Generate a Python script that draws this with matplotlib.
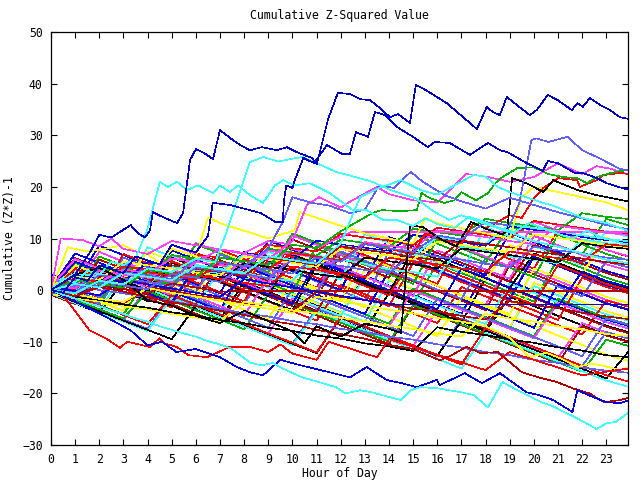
import matplotlib
matplotlib.use("Agg")
from matplotlib import pyplot as plt

# hourly grid used by the bulk of the traces (last sample sits just before 24h)
hours = list(range(24)) + [23.9]

# ---- traced outliers (hour, value) ----
top_a_x = [0, 1, 1.6, 2, 2.5, 3.3, 3.6, 3.9, 4.1, 4.22, 4.7, 5.22, 5.47, 5.76, 6.0, 6.29, 6.71, 7.0, 7.41, 7.83,
           8.24, 8.74, 9.36, 9.77, 10.19, 10.81, 11.01, 11.47, 11.88, 12.38, 12.8, 13.21, 13.62, 14.04, 14.37,
           14.87, 15.11, 15.4, 16.4, 17.64, 18.05, 18.3, 18.59, 18.88, 19.83, 20.12, 20.58, 20.99, 21.57, 21.82,
           22.03, 22.32, 22.73, 23.15, 23.56, 23.9]
top_a_y = [0, 3.0, 7.2, 10.7, 10.2, 12.6, 11.0, 10.2, 11.6, 15.1, 14.0, 13.0, 14.9, 25.2, 27.3, 26.7, 25.4, 31.0,
           29.5, 28.1, 27.1, 27.7, 27.1, 27.7, 26.7, 25.6, 24.4, 33.0, 38.2, 38.0, 37.0, 36.8, 35.3, 33.5, 34.1,
           32.4, 39.7, 39.1, 36.2, 31.2, 35.5, 34.5, 33.9, 37.4, 33.9, 34.9, 37.8, 36.8, 34.9, 36.2, 35.5, 37.2,
           35.9, 34.9, 33.5, 33.2]

top_b_x = [0, 0.5, 1, 1.5, 2, 2.5, 3, 3.5, 4, 4.5, 5, 5.5, 6, 6.5, 6.7, 7.4, 8.24, 8.7, 9.3, 9.6, 9.65, 9.75,
           10.0, 10.1, 10.45, 10.9, 11.43, 12.05, 12.38, 12.63, 13.13, 13.42, 13.83, 14.33, 14.99, 15.61, 15.9,
           16.52, 17.35, 18.1, 18.6, 18.92, 19.71, 20.37, 20.58, 20.99, 21.7, 22.03, 22.61, 23.02, 23.48, 23.9]
top_b_y = [0, -0.5, 2.5, 1.8, 4.8, 4.0, 3.3, 6.5, 5.8, 5.0, 8.8, 8.0, 7.3, 10.5, 16.9, 16.5, 15.5, 14.9, 13.2,
           13.2, 17.4, 20.3, 19.8, 21.3, 25.6, 24.6, 28.1, 26.4, 26.4, 30.6, 29.7, 34.5, 33.9, 31.6, 29.7, 27.7,
           28.7, 28.5, 26.2, 28.5, 27.1, 26.7, 24.6, 23.1, 25.0, 24.6, 22.7, 22.7, 21.7, 20.7, 20.0, 19.5]

cyan_a_x = [0, 0.5, 1, 1.5, 2, 2.5, 3, 3.5, 3.98, 4.51, 4.84, 5.22, 5.63, 6.09, 6.71, 7.0, 7.41, 7.74, 8.24,
            8.78, 9.28, 9.61, 10.1, 10.72, 11.55, 12.5, 13.08, 13.75, 14.33, 15.0, 15.5, 16.0, 16.7, 17.3, 18.0,
            18.6, 19.2, 19.8, 20.5, 21.0, 21.6, 22.2, 22.8, 23.4, 23.9]
cyan_a_y = [0, 2.2, 1.5, 3.8, 3.0, 5.5, 4.8, 6.2, 11.6, 21.0, 20.0, 21.0, 19.4, 20.3, 18.8, 20.3, 19.0, 20.3,
            18.4, 16.9, 20.3, 21.3, 20.3, 20.7, 18.8, 15.5, 15.5, 13.6, 13.6, 12.4, 13.9, 12.8, 12.0, 14.2, 13.1,
            12.0, 11.2, 13.0, 11.8, 10.9, 10.0, 11.5, 10.2, 9.4, 8.8]

cyan_b_x = [0, 1, 2, 3, 4, 5, 6, 6.8, 7.3, 8.24, 8.8, 9.4, 10.4, 11.0, 11.8, 12.3, 13.3, 14.0, 15.1, 15.9,
            16.5, 17.0, 18.0, 19.0, 20.0, 21.0, 22.0, 23.0, 23.9]
cyan_b_y = [0, -0.6, 1.8, 1.1, 4.2, 3.5, 6.1, 5.4, 11.6, 24.8, 25.8, 24.9, 25.8, 24.6, 22.9, 22.3, 21.0, 19.5,
            17.8, 15.1, 13.6, 14.5, 12.8, 11.2, 9.5, 8.4, 7.1, 5.9, 5.2]

cyan_c_x = [0, 1, 2, 3, 4, 5, 6, 7, 8, 9, 10, 11, 12, 12.8, 13.6, 14.5, 15.3, 16.0, 17.0, 17.5, 18.0, 18.5,
            19.0, 20.0, 21.0, 22.0, 23.0, 23.9]
cyan_c_y = [0, 1.2, 0.5, 3.3, 2.6, 1.9, 4.7, 4.0, 3.2, 6.6, 5.8, 5.1, 9.0, 18.0, 19.8, 21.3, 19.4, 18.5, 21.0,
            22.3, 22.0, 20.0, 19.0, 17.5, 16.0, 14.0, 13.0, 11.5]

lblue_a_x = [0, 1, 2, 3, 4, 5, 6, 7, 8, 9, 10, 11, 12, 13, 14, 15, 16, 17, 18, 19, 19.4, 19.9, 20.1, 20.6,
             21.4, 22.0, 22.7, 23.1, 23.56, 23.9]
lblue_a_y = [0, -0.7, 1.6, 0.9, 0.2, 3.1, 2.4, 1.6, 4.7, 4.0, 3.2, 6.3, 5.5, 8.9, 8.1, 7.4, 10.6, 9.8, 13.2,
             12.5, 16.9, 29.1, 29.4, 28.7, 29.7, 27.1, 25.6, 24.6, 23.5, 23.2]

lblue_b_x = [0, 1, 2, 3, 4, 5, 6, 7, 8, 9, 9.6, 10.0, 10.8, 11.5, 12.4, 13.0, 13.6, 14.2, 14.9, 15.4, 16.3,
             17.0, 18.0, 19.0, 20.0, 21.0, 22.0, 23.0, 23.9]
lblue_b_y = [0, 1.4, 0.7, 3.5, 2.8, 2.1, 6.0, 5.3, 4.6, 8.1, 13.2, 18.0, 16.9, 16.4, 14.9, 15.6, 20.3, 19.8,
             22.9, 21.0, 18.4, 17.2, 15.8, 17.9, 16.5, 15.1, 13.9, 12.6, 11.8]

green_a_x = [0, 1, 2, 3, 4, 5, 6, 7, 8, 9, 10, 11, 12, 13.3, 13.7, 14.5, 15.15, 15.35, 15.7, 16.3, 16.7, 17.0,
             17.6, 18.1, 18.4, 18.7, 19.3, 20.0, 20.6, 21.2, 21.8, 22.2, 22.6, 23.2, 23.9]
green_a_y = [0, 1.9, 1.2, 0.5, 3.9, 3.2, 2.5, 6.3, 5.6, 4.9, 8.8, 8.1, 11.4, 14.9, 15.5, 15.3, 15.5, 18.8, 17.8,
             16.9, 17.4, 19.0, 17.4, 18.8, 20.7, 21.9, 23.6, 23.8, 22.5, 21.9, 21.7, 20.7, 21.9, 22.7, 23.3]

mag_a_x = [0, 0.4, 1.3, 2, 2.5, 3, 4, 5, 6, 7, 8, 9, 10, 10.6, 11.1, 12.0, 12.3, 13.5, 14.0, 15.0, 16.0, 17.2,
           18.0, 19.0, 20.0, 21.0, 21.5, 22.0, 22.6, 23.2, 23.9]
mag_a_y = [0, 10.0, 9.7, 8.5, 10.0, 8.0, 7.0, 9.5, 8.7, 7.9, 7.0, 6.0, 9.5, 16.5, 18.0, 16.0, 16.9, 20.0, 18.6,
           17.4, 17.0, 22.5, 22.0, 21.0, 21.9, 24.6, 23.5, 22.5, 24.0, 23.5, 22.4]

yel_a_x = [0, 0.7, 1.5, 2, 3, 3.5, 4, 4.5, 5, 5.5, 6, 6.5, 7, 7.5, 8, 9, 10.1, 10.3, 11, 12, 13, 14, 15,
           15.5, 16, 17, 18, 19, 19.5, 20, 21, 22, 23, 23.9]
yel_a_y = [0, 8.3, 7.5, 7.8, 8.7, 7.5, 7.0, 5.2, 8.0, 7.3, 6.5, 14.1, 13.0, 12.2, 11.5, 10.0, 11.6, 15.1, 14.0,
           12.5, 11.0, 10.0, 9.0, 14.0, 13.0, 12.0, 11.0, 10.0, 18.0, 20.0, 19.0, 18.0, 17.0, 15.5]

red_a_x = [0, 1, 2, 3, 4, 5, 6, 7, 8, 9, 10, 11, 12, 13, 14, 15, 15.5, 16, 17, 17.5, 18, 19, 19.5, 20, 20.4,
           21.0, 21.8, 21.9, 22.6, 22.9, 23.6, 23.9]
red_a_y = [0, 2.3, 1.6, 0.9, 3.5, 2.8, 2.1, 5.4, 4.7, 4.0, 7.2, 6.5, 5.8, 9.0, 8.0, 7.0, 11.0, 10.0, 9.0, 13.0,
           12.0, 14.5, 14.0, 17.8, 19.8, 21.7, 21.3, 20.0, 21.3, 22.3, 22.7, 22.5]

black_a_x = [0, 1, 2, 3, 4, 5, 6, 7, 8, 9, 10, 10.5, 11, 12, 13, 14, 14.5, 14.87, 15.4, 16.2, 16.8, 17.4, 18.0,
             18.7, 18.9, 19.1, 19.7, 20.4, 20.8, 21.8, 22.6, 23.9]
black_a_y = [0, 3.0, 4.3, 2.0, -2.0, -3.0, -5.0, -6.4, -4.0, -6.0, -8.0, -10.3, -7.0, -9.0, -6.5, -7.5, -8.3,
             12.6, 12.2, 9.7, 8.5, 13.2, 11.9, 10.8, 11.6, 21.7, 20.7, 19.0, 21.3, 19.4, 18.4, 17.2]

# ---- traced lower outliers ----
cyan_low_x = [0, 0.5, 1, 1.5, 2, 2.5, 3, 3.5, 4, 4.5, 5, 5.5, 6, 6.5, 7, 7.5, 8.24, 8.7, 9.2, 9.6, 10.4, 11.1,
              11.8, 12.2, 12.8, 13.3, 14.0, 14.5, 14.9, 15.3, 16.0, 16.5, 17.0, 17.5, 18.1, 18.7, 19.0, 19.5,
              20.3, 20.8, 21.2, 21.7, 22.1, 22.6, 23.0, 23.4, 23.9]
cyan_low_y = [0, -0.9, -1.6, -2.5, -3.1, -4.0, -4.6, -5.5, -6.1, -7.0, -7.7, -8.4, -9.0, -9.9, -10.5, -11.4,
              -14.0, -14.6, -14.1, -15.2, -16.9, -17.8, -18.8, -20.0, -19.4, -19.8, -20.7, -21.3, -19.4, -18.8,
              -19.0, -19.4, -19.8, -20.3, -22.7, -17.8, -18.6, -19.8, -21.7, -22.5, -23.5, -24.6, -25.6, -26.9,
              -25.8, -25.5, -23.8]

blue_low_x = [0, 1, 2, 3.3, 4.0, 4.6, 5.2, 6.0, 7.0, 7.7, 8.24, 8.78, 9.5, 10.2, 11.0, 11.7, 12.38, 13.08,
              13.9, 14.5, 15.15, 15.98, 16.1, 17.14, 17.85, 18.6, 19.7, 20.2, 20.8, 21.6, 21.8, 22.4, 23.0,
              23.56, 23.9]
blue_low_y = [0, -2.2, -4.5, -7.8, -10.7, -10.0, -12.0, -11.4, -13.0, -14.9, -15.9, -16.5, -13.5, -14.4, -15.3,
              -16.1, -16.9, -14.9, -17.4, -18.0, -18.8, -17.4, -18.4, -16.1, -18.0, -16.1, -19.8, -20.3,
              -21.3, -23.6, -19.4, -20.6, -21.7, -21.9, -21.4]

dred_low_x = [0, 1, 2, 3, 4, 5, 6, 7, 8, 9, 10, 11, 12, 13, 14, 15, 16.1, 16.6, 17.2, 17.8, 18.5, 19.5, 20.2,
              20.95, 21.6, 22.3, 22.9, 23.56, 23.9]
dred_low_y = [0, -1.2, 0.6, -0.3, -1.4, -2.3, -3.1, -4.0, -4.8, -5.9, -6.6, -7.7, -8.5, -9.4, -10.6, -11.4,
              -13.6, -12.6, -11.0, -12.2, -12.0, -15.9, -16.9, -17.8, -19.0, -20.0, -21.7, -21.3, -20.9]

red_low_x = [0, 0.5, 1.0, 1.6, 2.3, 2.86, 3.15, 4.1, 4.5, 4.7, 5.2, 5.7, 6.46, 7.4, 8.24, 9.0, 9.5, 10.0, 11.0,
             11.5, 12.5, 13.5, 14.0, 15.0, 16.0, 17.0, 18.0, 19.0, 20.0, 21.0, 22.0, 23.0, 23.9]
red_low_y = [0, -1.0, -4.1, -7.8, -9.4, -11.2, -10.0, -11.0, -9.3, -10.3, -11.0, -12.6, -13.0, -11.0, -11.0,
             -12.0, -10.5, -12.3, -13.5, -10.0, -11.5, -13.0, -9.5, -11.0, -12.5, -14.0, -15.5, -12.0, -13.5,
             -15.0, -16.5, -15.8, -15.2]

yel_low_x = [0, 1, 2, 3, 4, 5, 6, 7, 8, 9, 10, 11, 12, 13, 14, 15, 16, 17, 18, 19, 19.8, 20.5, 21.2, 21.8,
             22.4, 23.0, 23.56, 23.9]
yel_low_y = [0, -0.8, -1.7, -2.3, 0.4, -0.5, -1.2, -2.1, -2.8, -3.6, -4.4, -1.3, -2.1, -2.9, -3.8, -4.5, -5.4,
             -6.1, -7.0, -9.2, -13.0, -12.1, -13.4, -14.9, -14.2, -14.8, -15.5, -15.0]

# ---- flat segments (stuck readings) ----
flat_mag_x = [0, 1, 2, 3, 4, 5, 6, 7, 8, 9, 10, 11, 12, 12.4, 23.9]
flat_mag_y = [0.4, 2.2, 1.5, 4.0, 3.3, 6.1, 5.4, 7.9, 7.2, 9.5, 8.8, 8.1, 10.3, 11.2, 11.2]
flat_dred_x = [0, 1, 2, 3, 4, 5, 6, 7, 7.6, 23.9]
flat_dred_y = [-0.3, -1.1, 0.9, 0.2, -0.6, 1.3, 0.5, -0.3, -0.2, -0.2]
flat_blue_x = [0, 1, 2, 3, 4, 5, 6, 7, 8, 9, 10, 11, 12, 13, 14, 14.3, 23.9]
flat_blue_y = [0.6, -0.2, -1.0, 1.9, 1.1, 0.3, -0.5, -1.3, 2.1, 1.3, 0.5, -0.3, -1.1, -1.9, -2.6, -2.8, -2.8]

# ---- bulk of the traces, one value per hour ----
mid_series = [
    [1.2, -0.6, -2.4, 5.1, 3.2, 1.5, -0.4, 7.8, 6.0, 4.1, 2.3, 0.5, 8.6, 6.8, 4.9, 3.1, 1.2, 9.7, 7.9, 6.0, 4.2, 11.5, 9.6, 7.8, 6.5],
    [0.4, 5.3, 3.4, 1.6, -0.3, -2.1, 4.6, 2.8, 0.9, -0.9, 6.7, 4.8, 3.0, 1.1, -0.7, -2.6, 5.2, 3.3, 1.5, -0.4, -2.2, 6.1, 4.3, 2.4, 1.1],
    [-0.6, -2.3, 3.9, 2.1, 0.2, -1.6, -3.5, 4.4, 2.5, 0.7, -1.2, -3.0, -4.9, 2.8, 0.9, -0.9, -2.8, -4.6, 3.6, 1.7, -0.1, -2.0, -3.8, -5.7, -6.9],
    [2.6, 0.8, 7.4, 5.5, 3.7, 1.8, 9.1, 7.3, 5.4, 3.6, 1.7, -0.1, 8.2, 6.4, 4.5, 2.7, 0.8, -1.0, -2.9, 5.5, 3.6, 1.8, -0.1, -1.9, -3.1],
    [-0.2, -2.0, -3.8, 2.9, 1.1, -0.8, -2.6, -4.5, 3.1, 1.3, -0.6, -2.4, -4.3, -6.1, 1.9, 0.1, -1.8, -3.6, -5.5, -7.3, 0.8, -1.0, -2.9, -4.7, -5.9],
    [0.9, 6.2, 4.4, 2.5, 0.7, -1.2, -3.0, 5.8, 4.0, 2.1, 0.3, -1.6, 7.2, 5.4, 3.5, 1.7, -0.2, -2.0, -3.9, 4.9, 3.1, 1.2, -0.6, -2.5, -3.7],
    [0.3, -1.5, 4.7, 2.9, 1.0, -0.8, 6.6, 4.8, 2.9, 1.1, -0.8, -2.6, -4.5, 3.9, 2.1, 0.2, -1.6, -3.5, -5.3, -7.2, 1.4, -0.4, -2.3, -4.1, -5.3],
    [-0.8, -2.6, -4.4, 1.7, -0.1, -2.0, -3.8, -5.7, 1.5, -0.3, -2.2, -4.0, -5.9, -7.7, -0.6, -2.4, -4.3, -6.1, -8.0, -1.3, -3.1, -5.0, -6.8, -8.7, -9.9],
    [1.7, -0.1, -1.9, 6.3, 4.5, 2.6, 0.8, -1.1, -2.9, 5.4, 3.6, 1.7, -0.1, -2.0, 7.6, 5.8, 3.9, 2.1, 0.2, -1.6, 6.8, 5.0, 3.1, 1.3, 0.1],
    [-0.4, 4.0, 2.2, 0.3, -1.5, -3.4, 3.3, 1.5, -0.4, -2.2, -4.1, -5.9, 1.0, -0.8, -2.7, -4.5, -6.4, 0.6, -1.2, -3.1, -4.9, -6.8, -8.6, -2.0, -3.2],
    [0.7, -1.1, -2.9, -4.7, 2.4, 0.6, -1.3, -3.1, -5.0, 2.7, 0.9, -1.0, -2.8, -4.7, -6.5, 0.3, -1.5, -3.4, -5.2, -7.1, -8.9, -1.7, -3.5, -5.4, -6.6],
    [3.1, 1.3, 8.6, 6.8, 4.9, 3.1, 1.2, -0.6, 7.4, 5.6, 3.7, 1.9, 0.0, 9.3, 7.5, 5.6, 3.8, 1.9, 0.1, -1.8, 6.5, 4.7, 2.8, 1.0, -0.2],
    [-0.5, -2.3, -4.1, -5.9, 0.8, -1.0, -2.9, -4.7, -6.6, -8.4, -1.6, -3.4, -5.3, -7.1, -9.0, -10.8, -3.9, -5.7, -7.6, -9.4, -11.3, -13.1, -6.4, -8.2, -9.4],
    [0.6, 5.8, 4.0, 2.1, 0.3, -1.6, -3.4, 4.2, 2.4, 0.5, -1.3, -3.2, -5.0, 2.6, 0.8, -1.1, -2.9, -4.8, -6.6, 1.3, -0.5, -2.4, -4.2, -6.1, -7.3],
    [-0.9, -2.7, 2.8, 1.0, -0.9, -2.7, -4.6, -6.4, 0.6, -1.2, -3.1, -4.9, -6.8, -8.6, -10.5, -3.1, -4.9, -6.8, -8.6, -10.5, -12.3, -14.2, -7.0, -8.8, -10.0],
    [1.4, -0.4, -2.2, -4.0, 3.6, 1.8, -0.1, -1.9, -3.8, -5.6, 2.2, 0.4, -1.5, -3.3, -5.2, -7.0, -8.9, -1.4, -3.2, -5.1, -6.9, -8.8, -10.6, -12.5, -13.7],
    [0.2, 3.4, 1.6, -0.3, -2.1, 5.3, 3.5, 1.6, -0.2, -2.1, -3.9, 4.8, 3.0, 1.1, -0.7, -2.6, -4.4, -6.3, 2.3, 0.5, -1.4, -3.2, -5.1, -6.9, -8.1],
    [-0.3, -2.1, -3.9, -5.7, -7.5, -1.2, -3.0, -4.9, -6.7, -8.6, -10.4, -3.6, -5.4, -7.3, -9.1, -11.0, -12.8, -5.5, -7.3, -9.2, -11.0, -12.9, -14.7, -8.1, -9.3],
    [2.2, 0.4, -1.4, 7.0, 5.2, 3.3, 1.5, -0.4, -2.2, 6.1, 4.3, 2.4, 0.6, -1.3, -3.1, 5.3, 3.5, 1.6, -0.2, -2.1, -3.9, -5.8, 2.4, 0.6, -0.6],
    [-0.1, -1.9, -3.7, -5.5, -0.2, -2.0, -3.9, -5.7, -7.6, -0.8, -2.6, -4.5, -6.3, -8.2, -10.0, -2.9, -4.7, -6.6, -8.4, -10.3, -12.1, -14.0, -15.8, -9.6, -10.8],
    [0.5, 7.1, 5.3, 3.4, 1.6, -0.3, -2.1, -4.0, 4.6, 2.8, 0.9, -0.9, -2.8, -4.6, 3.8, 2.0, 0.1, -1.7, -3.6, -5.4, -7.3, 1.1, -0.7, -2.6, -3.8],
    [1.0, -0.8, -2.6, 4.3, 2.5, 0.6, -1.2, -3.1, -4.9, 2.2, 0.4, -1.5, -3.3, -5.2, -7.0, -0.1, -1.9, -3.8, -5.6, -7.5, -9.3, -2.5, -4.3, -6.2, -7.4],
    [-0.7, -2.5, -4.3, -6.1, -7.9, -1.5, -3.3, -5.2, -7.0, -8.9, -10.7, -4.1, -5.9, -7.8, -9.6, -11.5, -13.3, -15.2, -8.3, -10.1, -12.0, -13.8, -15.7, -17.5, -18.7],
    [0.1, 4.6, 2.8, 0.9, -0.9, -2.8, 5.0, 3.2, 1.3, -0.5, -2.4, -4.2, 3.5, 1.7, -0.2, -2.0, -3.9, -5.7, -7.6, 0.3, -1.5, -3.4, -5.2, -7.1, -8.3],
    [2.0, 0.2, 6.0, 4.2, 2.3, 0.5, -1.4, 7.3, 5.5, 3.6, 1.8, -0.1, -1.9, 6.4, 4.6, 2.7, 0.9, -1.0, -2.8, -4.7, 4.2, 2.4, 0.5, -1.3, -2.5],
    [-0.5, -2.3, -4.1, -5.9, -7.7, -9.5, -3.0, -4.8, -6.7, -8.5, -10.4, -12.2, -5.3, -7.1, -9.0, -10.8, -12.7, -6.0, -7.8, -9.7, -11.5, -13.4, -15.2, -17.1, -12.0],
    [0.8, -1.0, -2.8, 3.8, 2.0, 0.1, -1.7, -3.6, -5.4, -7.3, 0.3, -1.5, -3.4, -5.2, -7.1, -8.9, -1.7, -3.5, -5.4, -7.2, -9.1, -10.9, -12.8, -5.5, -6.7],
    [0.6, -1.2, -3.0, -4.8, -6.6, -1.0, -2.8, -4.7, -6.5, -8.4, -10.2, -12.1, -5.2, -7.0, -8.9, -10.7, -12.6, -14.4, -7.3, -9.1, -11.0, -12.8, -14.7, -16.5, -17.7],
    [1.1, -0.7, 6.5, 4.7, 2.8, 1.0, 8.9, 7.1, 5.2, 3.4, 11.0, 9.2, 7.3, 5.5, 3.6, 10.8, 9.0, 7.1, 5.3, 12.4, 10.6, 8.7, 6.9, 13.8, 12.6],
    [0.2, 5.5, 3.7, 1.8, 0.0, 7.7, 5.9, 4.0, 2.2, 9.6, 7.8, 5.9, 4.1, 2.2, 10.3, 8.5, 6.6, 4.8, 2.9, 11.1, 9.3, 7.4, 5.6, 3.7, 2.5],
    [-0.3, -2.1, 4.2, 2.4, 0.5, 6.8, 5.0, 3.1, 1.3, -0.6, 8.1, 6.3, 4.4, 2.6, 0.7, -1.1, 7.7, 5.9, 4.0, 2.2, 10.5, 8.7, 6.8, 5.0, 3.8],
    [0.9, 3.9, 2.1, 0.2, 8.3, 6.5, 4.6, 2.8, 0.9, 7.5, 5.7, 3.8, 2.0, 10.9, 9.1, 7.2, 5.4, 3.5, 12.2, 10.4, 8.5, 6.7, 4.8, 11.5, 10.3],
    [1.8, 0.0, 5.9, 4.1, 2.2, 0.4, 7.2, 5.4, 3.5, 1.7, 9.8, 8.0, 6.1, 4.3, 2.4, 9.0, 7.2, 5.3, 3.5, 1.6, 8.8, 7.0, 5.1, 3.3, 2.1],
    [-0.6, 4.8, 3.0, 1.1, 7.5, 5.7, 3.8, 2.0, 0.1, 8.9, 7.1, 5.2, 3.4, 1.5, 9.3, 7.5, 5.6, 3.8, 1.9, 8.7, 6.9, 5.0, 3.2, 10.1, 8.9],
    [0.4, -1.4, 3.6, 1.8, -0.1, 6.3, 4.5, 2.6, 0.8, -1.1, 6.9, 5.1, 3.2, 1.4, -0.5, 7.8, 6.0, 4.1, 2.3, 0.4, 7.1, 5.3, 3.4, 1.6, 0.4],
    [2.3, 0.5, -1.3, 5.1, 3.3, 1.4, -0.4, 6.9, 5.1, 3.2, 1.4, -0.5, 7.5, 5.7, 3.8, 2.0, 0.1, -1.7, 6.2, 4.4, 2.5, 0.7, -1.2, 5.6, 4.4],
    [0.0, 4.1, 2.3, 0.4, -1.4, 5.6, 3.8, 1.9, 0.1, 8.2, 6.4, 4.5, 2.7, 0.8, -1.0, 6.4, 4.6, 2.7, 0.9, -1.0, -2.8, 4.9, 3.1, 1.2, 0.0],
    [1.3, -0.5, -2.3, 4.4, 2.6, 0.7, 6.9, 5.1, 3.2, 1.4, -0.5, 8.6, 6.8, 4.9, 3.1, 1.2, 9.9, 8.1, 6.2, 4.4, 2.5, 10.7, 8.9, 7.0, 5.8],
    [-0.2, -2.0, 3.1, 1.3, -0.6, -2.4, 4.7, 2.9, 1.0, -0.8, -2.7, 5.5, 3.7, 1.8, 0.0, -1.9, -3.7, 4.2, 2.4, 0.5, -1.3, -3.2, 3.6, 1.8, 0.6],
    [0.7, 6.0, 4.2, 2.3, 0.5, 8.8, 7.0, 5.1, 3.3, 1.4, 10.6, 8.8, 6.9, 5.1, 3.2, 12.0, 10.2, 8.3, 6.5, 4.6, 13.3, 11.5, 9.6, 7.8, 6.6],
    [0.5, -0.3, 3.1, 2.2, 1.6, 0.7, 4.9, 4.0, 3.4, 2.3, 1.8, 6.7, 5.9, 5.1, 4.0, 3.5, 2.6, 8.4, 7.7, 6.5, 5.9, 5.2, 9.8, 9.1, 8.6],
    [-0.6, -1.2, -2.1, -2.6, 0.6, -0.1, -1.0, -1.6, -2.5, -3.0, -3.9, -0.4, -1.3, -1.9, -2.8, -3.6, -4.1, -5.0, -5.7, -2.1, -2.9, -3.5, -4.4, -5.1, -5.6],
    [-0.7, -1.6, -2.2, -3.1, -3.7, -4.6, -5.3, -6.0, -2.3, -3.0, -3.9, -4.5, -5.4, -6.0, -6.9, -7.5, -8.4, -9.0, -4.6, -5.5, -6.1, -7.0, -7.6, -8.5, -8.9],
    [-0.4, -1.3, -1.9, -2.8, -3.4, -4.3, -4.9, -5.8, -6.4, -7.3, -7.9, -8.8, -9.4, -10.3, -10.9, -11.8, -7.2, -8.1, -8.7, -9.6, -10.2, -11.1, -11.7, -12.6, -13.0],
    [-0.8, 0.9, 0.0, -0.6, -1.5, -2.1, -3.0, -3.6, -4.5, -5.1, -6.0, -6.6, -7.5, -8.1, -9.0, -9.6, -10.5, -11.1, -12.0, -12.6, -13.5, -14.1, -15.0, -15.6, -16.0],
    [0.6, 2.0, 1.4, 4.6, 4.0, 3.2, 6.9, 6.3, 5.5, 8.8, 8.1, 7.5, 10.9, 10.2, 9.6, 8.8, 12.1, 11.4, 10.7, 10.0, 13.4, 12.7, 12.0, 11.3, 10.9],
    [0.2, 1.5, 4.2, 3.5, 2.9, 6.8, 6.1, 5.5, 4.7, 8.0, 7.3, 6.7, 9.8, 9.1, 8.4, 11.9, 11.2, 10.6, 13.8, 13.0, 12.4, 11.6, 14.9, 14.2, 13.8],
    [-0.3, 2.9, 2.2, 1.6, 5.4, 4.7, 4.1, 3.3, 7.2, 6.5, 5.9, 9.6, 8.8, 8.2, 7.5, 10.7, 10.0, 9.4, 8.6, 12.4, 11.7, 11.1, 10.3, 9.7, 9.3],
    [1.0, 0.3, 3.7, 3.0, 2.4, 1.6, 5.5, 4.8, 4.2, 7.7, 7.0, 6.4, 5.6, 9.3, 8.6, 8.0, 11.6, 10.9, 10.3, 9.5, 8.9, 12.5, 11.8, 11.1, 10.7],
    [0.5, 3.3, 2.6, 2.0, 1.2, 4.6, 3.9, 3.3, 7.0, 6.3, 5.7, 4.9, 8.6, 7.9, 7.3, 6.5, 10.3, 9.6, 9.0, 12.7, 12.0, 11.4, 10.6, 9.9, 9.5],
    [0.0, -0.8, 2.6, 1.9, 1.3, 4.8, 4.1, 3.5, 2.7, 6.2, 5.5, 4.9, 8.5, 7.8, 7.2, 6.4, 5.8, 9.6, 8.9, 8.3, 7.5, 6.9, 6.1, 5.4, 5.0],
    [0.9, 2.7, 2.0, 5.5, 4.8, 4.2, 3.4, 2.8, 6.6, 5.9, 5.3, 4.5, 8.0, 7.3, 6.7, 5.9, 9.4, 8.7, 8.1, 7.3, 10.8, 10.1, 9.5, 8.7, 8.3],
    [-0.5, 1.9, 1.2, 0.6, 3.8, 3.1, 2.5, 1.7, 5.2, 4.5, 3.9, 3.1, 2.5, 6.3, 5.6, 5.0, 4.2, 8.1, 7.4, 6.8, 6.0, 5.4, 9.1, 8.4, 8.0],
    [0.3, -0.4, 2.9, 2.2, 1.6, 0.8, 4.4, 3.7, 3.1, 2.3, 6.0, 5.3, 4.7, 3.9, 3.3, 7.2, 6.5, 5.9, 5.1, 4.5, 8.4, 7.7, 7.1, 6.3, 5.9],
    [0.1, 2.2, 1.5, 0.9, 0.1, 3.5, 2.8, 2.2, 1.4, 0.8, 4.6, 3.9, 3.3, 2.5, 6.3, 5.6, 5.0, 4.2, 3.6, 7.5, 6.8, 6.2, 5.4, 8.9, 8.5],
]

# gnuplot-like pen colours
RED, GREEN, BLUE, MAG, CYAN = "#ff0000", "#00b000", "#0000e0", "#ff40ff", "#40ffff"
DRED, YEL, BLK, LBLUE, NAVY = "#b00000", "#ffff00", "#000000", "#6060ff", "#0000c0"
cycle = [RED, GREEN, BLUE, MAG, CYAN, DRED, YEL, BLK, LBLUE]

plt.rcParams["font.family"] = ["DejaVu Sans Mono"]
fig = plt.figure(figsize=(6.4, 4.8), dpi=100)
ax = fig.add_axes([51 / 640, 35 / 480, 577 / 640, 413 / 480])

lw = 0.45
for i, ys in enumerate(mid_series):
    ax.plot(hours, ys, color=cycle[i % len(cycle)], lw=lw, antialiased=False)

traced = [
    (flat_dred_x, flat_dred_y, DRED), (flat_blue_x, flat_blue_y, BLUE), (flat_mag_x, flat_mag_y, MAG),
    (yel_low_x, yel_low_y, YEL), (red_low_x, red_low_y, RED), (dred_low_x, dred_low_y, DRED),
    (blue_low_x, blue_low_y, BLUE), (cyan_low_x, cyan_low_y, CYAN),
    (yel_a_x, yel_a_y, YEL), (mag_a_x, mag_a_y, MAG), (red_a_x, red_a_y, RED),
    (green_a_x, green_a_y, GREEN), (black_a_x, black_a_y, BLK), (lblue_b_x, lblue_b_y, LBLUE),
    (lblue_a_x, lblue_a_y, LBLUE), (cyan_c_x, cyan_c_y, CYAN), (cyan_a_x, cyan_a_y, CYAN),
    (cyan_b_x, cyan_b_y, CYAN), (top_b_x, top_b_y, NAVY), (top_a_x, top_a_y, NAVY),
]
for xs, ys, c in traced:
    ax.plot(xs, ys, color=c, lw=lw, antialiased=False)

ax.set_xlim(0, 23.9)
ax.set_ylim(-30, 50)
ax.set_xticks(range(24))
ax.set_yticks(range(-30, 51, 10))
ax.tick_params(direction="in", length=4.5, width=0.8, top=True, right=True, labelsize=8.3, pad=6, colors="black")
for s in ax.spines.values():
    s.set_linewidth(0.9)

fig.text(339.5 / 640, 1 - 15 / 480, "Cumulative Z-Squared Value", ha="center", va="center", fontsize=8.3)
fig.text(339.5 / 640, 1 - 473 / 480, "Hour of Day", ha="center", va="center", fontsize=8.3)
fig.text(10 / 640, 1 - 238.5 / 480, "Cumulative (Z*Z)-1", ha="center", va="center", rotation=90, fontsize=8.3)

fig.savefig("out.png", dpi=100)
